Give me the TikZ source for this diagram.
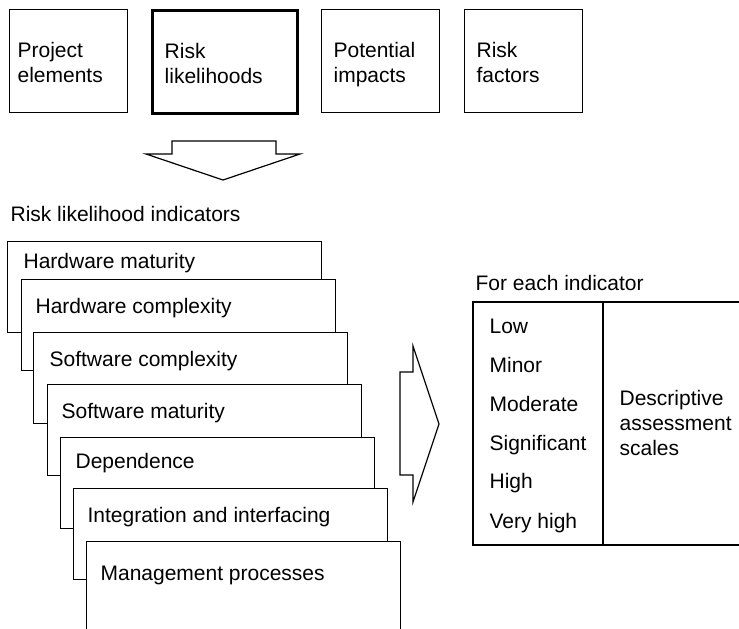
\documentclass[tikz,border=0pt]{standalone}
\usepackage{fontspec}
\setmainfont{Liberation Sans}
\usetikzlibrary{positioning}

\begin{document}
\begin{tikzpicture}[x=0.5pt,y=-0.5pt,line width=0.6pt,
    every node/.style={font=\fontsize{10.5}{12.5}\selectfont},
    topbox/.style={draw,anchor=north west,align=left,inner xsep=6pt,inner ysep=0pt,
                   minimum height=51.5pt,text width=47pt,text height=13pt,text depth=16.5pt},
    stackbox/.style={draw,fill=white,anchor=north west,inner sep=0pt,
                     minimum width=157pt,minimum height=45.5pt},
    lbl/.style={anchor=base west,inner sep=0pt}]
       \useasboundingbox (0,0) rectangle (739,628);

       \coordinate (PE) at (8.5,9);
       \coordinate (RL) at (151,9);
       \coordinate (PI) at (321,9);
       \coordinate (RF) at (464,9);

       \coordinate (S1) at (7,241);
       \coordinate (S2) at (21,279);
       \coordinate (S3) at (33,332);
       \coordinate (S4) at (47,384);
       \coordinate (S5) at (60,437);
       \coordinate (S6) at (73,488);
       \coordinate (S7) at (86,541);

       \coordinate (TL) at (473,302);
       \coordinate (TM) at (603,302);
       \coordinate (BL) at (473,545);
       \coordinate (BM) at (603,545);

       % top row
       \node[topbox,inner xsep=4.25pt,text width=50.5pt] (PEbox) at (PE) {Project\\elements};
       \node[topbox,line width=1.7pt,text width=60.5pt] (RLbox) at (RL) {Risk\\likelihoods};
       \node[topbox] (PIbox) at (PI) {Potential\\impacts};
       \node[topbox] (RFbox) at (RF) {Risk\\factors};

       \draw (172,141) -- (276,141) -- (276,154) -- (300,154) -- (223,180)
             -- (146,154) -- (172,154) -- cycle;

       \node[lbl] (RLI) at (10,221) {Risk likelihood indicators};

       % stacked indicators
       \node[stackbox] (HMbox) at (S1) {};
       \node[lbl] at (23,268) {Hardware maturity};
       \node[stackbox] (HCbox) at (S2) {};
       \node[lbl] at (35,313) {Hardware complexity};
       \node[stackbox] (SCbox) at (S3) {};
       \node[lbl] at (49,366) {Software complexity};
       \node[stackbox] (SMbox) at (S4) {};
       \node[lbl] at (61,418) {Software maturity};
       \node[stackbox] (DPbox) at (S5) {};
       \node[lbl] at (75,468) {Dependence};
       \node[stackbox] (IIbox) at (S6) {};
       \node[lbl] at (87,522) {Integration and interfacing};
       \node[stackbox] (MPbox) at (S7) {};
       \node[lbl] at (100,580) {Management processes};

       \draw (400,372) -- (413,372) -- (413,346) -- (439,424) -- (413,502)
             -- (413,475) -- (400,475) -- cycle;

       % assessment scales
       \node[lbl] (FEI) at (475,290) {For each indicator};
       \draw (745,302) -- (TL) -- (BL) -- (745,545);
       \draw (TM) -- (BM);
       \node[lbl] (LO) at (489,333) {Low};
       \node[lbl] (MI) at (489,372) {Minor};
       \node[lbl] (MO) at (489,411) {Moderate};
       \node[lbl] (SI) at (489,450) {Significant};
       \node[lbl] (HI) at (489,488) {High};
       \node[lbl] (VH) at (489,528) {Very high};
       \node[lbl,align=left] (DAS) at (619,455)
             {Descriptive\\assessment\\scales};
\end{tikzpicture}
\end{document}
